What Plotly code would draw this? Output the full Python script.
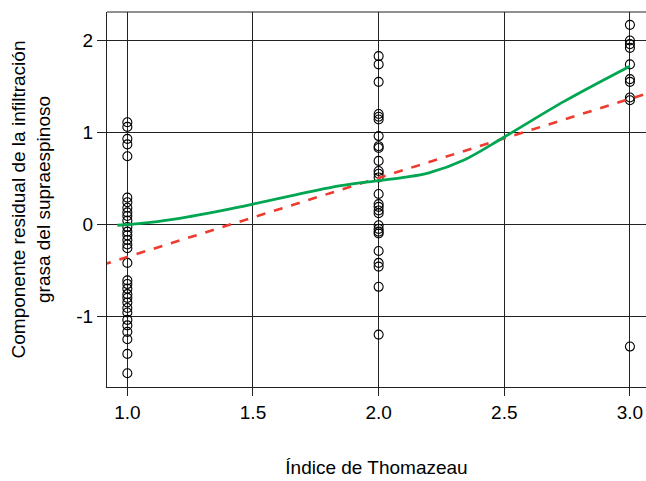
import plotly.graph_objects as go

# Observed component+residual values at each Thomazeau index
x1_vals = [1.11, 1.06, 0.93, 0.87, 0.74, 0.29, 0.24, 0.18, 0.13, 0.09, 0.04,
           -0.03, -0.08, -0.12, -0.17, -0.22, -0.26, -0.42,
           -0.61, -0.65, -0.70, -0.76, -0.80, -0.85, -0.91, -0.96,
           -1.04, -1.10, -1.17, -1.25, -1.41, -1.62]
x2_vals = [1.83, 1.74, 1.55, 1.20, 1.17, 1.14, 0.96, 0.85, 0.83, 0.69, 0.58,
           0.55, 0.51, 0.33, 0.22, 0.19, 0.15, 0.12, -0.01, -0.05, -0.08,
           -0.10, -0.29, -0.42, -0.46, -0.68, -1.20]
x3_vals = [2.17, 2.00, 1.96, 1.92, 1.74, 1.58, 1.55, 1.38, 1.35, -1.33]

# Smoothed (green) curve
smooth_x = [0.96, 1.12, 1.25, 1.39, 1.5, 1.65, 1.85, 2.0, 2.1, 2.2, 2.34, 2.5, 2.74, 3.0]
smooth_y = [-0.01, 0.03, 0.085, 0.157, 0.22, 0.31, 0.42, 0.475, 0.51, 0.56, 0.70, 0.95, 1.34, 1.72]

# Linear fit (red dashed)
fit_x = [0.90, 3.10]
fit_y = [-0.441, 1.451]

x_ticks = [1.0, 1.5, 2.0, 2.5, 3.0]
x_ticklabels = ["1.0", "1.5", "2.0", "2.5", "3.0"]
y_ticks = [-1, 0, 1, 2]
y_ticklabels = ["-1", "0", "1", "2"]

px = [1.0] * len(x1_vals) + [2.0] * len(x2_vals) + [3.0] * len(x3_vals)
py = x1_vals + x2_vals + x3_vals

fig = go.Figure()
fig.add_trace(go.Scatter(
    x=px, y=py, mode="markers",
    marker=dict(symbol="circle-open", size=9, color="black", line=dict(width=1.1)),
    showlegend=False, hoverinfo="skip"))
fig.add_trace(go.Scatter(
    x=fit_x, y=fit_y, mode="lines",
    line=dict(color="#EE3B2F", width=2.6, dash="dash"),
    showlegend=False))
fig.add_trace(go.Scatter(
    x=smooth_x, y=smooth_y, mode="lines", line_shape="spline",
    line=dict(color="#00A651", width=2.8),
    showlegend=False))

font_family = "Liberation Sans, Arial, sans-serif"
grid_col = "#222222"
fig.update_layout(
    width=646, height=481,
    margin=dict(l=107, r=0, t=12, b=94),
    paper_bgcolor="white", plot_bgcolor="white",
    font=dict(family=font_family, size=19, color="black"),
    xaxis=dict(
        range=[0.919, 3.064], tickvals=x_ticks, ticktext=x_ticklabels,
        automargin=False,
        showgrid=True, gridcolor=grid_col, gridwidth=1,
        zeroline=False, showline=True, linecolor=grid_col, linewidth=1, mirror=False,
        ticks="outside", ticklen=8, tickcolor=grid_col,
        title=dict(text="Índice de Thomazeau", standoff=38, font=dict(size=19)),
    ),
    yaxis=dict(
        range=[-1.77, 2.31], tickvals=y_ticks, ticktext=y_ticklabels,
        automargin=False,
        showgrid=True, gridcolor=grid_col, gridwidth=1,
        zeroline=False, showline=True, linecolor=grid_col, linewidth=1,
        ticks="outside", ticklen=9, tickcolor=grid_col,
        title=dict(text="Componente residual de la infiltración<br>grasa del supraespinoso",
                   standoff=20, font=dict(size=19)),
    ),
)
# top border line
fig.add_shape(type="line", xref="paper", yref="paper", x0=0, x1=1, y0=1, y1=1,
              line=dict(color=grid_col, width=1))

fig.write_html(
    "out.html",
    config={"displayModeBar": False},
    post_script="document.body.style.margin='0px';document.body.style.overflow='hidden';",
)
